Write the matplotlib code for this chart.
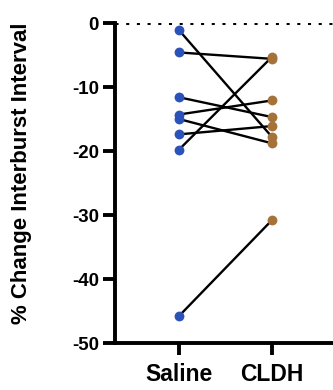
import matplotlib
matplotlib.use("Agg")
import matplotlib.pyplot as plt

groups = ["Saline", "CLDH"]
saline = [-1.1, -4.6, -11.6, -14.3, -15.0, -17.4, -19.8, -45.8]
cldh = [-17.8, -5.6, -14.7, -12.1, -18.8, -16.1, -5.3, -30.8]
yticks = [0, -10, -20, -30, -40, -50]

plt.rcParams['font.family'] = ['Liberation Sans', 'DejaVu Sans']
plt.rcParams['font.weight'] = 'bold'

fig = plt.figure(figsize=(3.33, 3.9), dpi=100)
ax = fig.add_axes([0.345, 0.1205, 0.655, 0.8205])

blue = '#2b52b8'
brown = '#a5733a'
for s, c in zip(saline, cldh):
    ax.plot([0, 1], [s, c], color='black', lw=1.7, zorder=2, solid_capstyle='round')
ax.scatter([0] * len(saline), saline, s=50, color=blue, zorder=3, linewidths=0)
ax.scatter([1] * len(cldh), cldh, s=50, color=brown, zorder=3, linewidths=0)

ax.axhline(0, color='black', lw=2.2, ls=(0, (1, 2.5)), zorder=1)

ax.set_xlim(-0.688, 1.656)
ax.set_ylim(-50, 0)
ax.set_yticks(yticks)
ax.set_yticklabels([str(t) for t in yticks], fontsize=13.5, fontweight='bold')
ax.set_xticks([0, 1])
ax.set_xticklabels(groups, fontsize=16.5, fontweight='bold')
ax.set_ylabel('% Change Interburst Interval', fontsize=16, fontweight='bold',
              va='center')
ax.yaxis.set_label_coords(-0.43, 0.53)

for side in ['top', 'right']:
    ax.spines[side].set_visible(False)
for side in ['left', 'bottom']:
    ax.spines[side].set_linewidth(2.8)
ax.tick_params(axis='both', width=2.8, length=8.5, color='black')
ax.tick_params(axis='y', pad=3)
ax.tick_params(axis='x', pad=6)

fig.savefig('out.png', dpi=100)
